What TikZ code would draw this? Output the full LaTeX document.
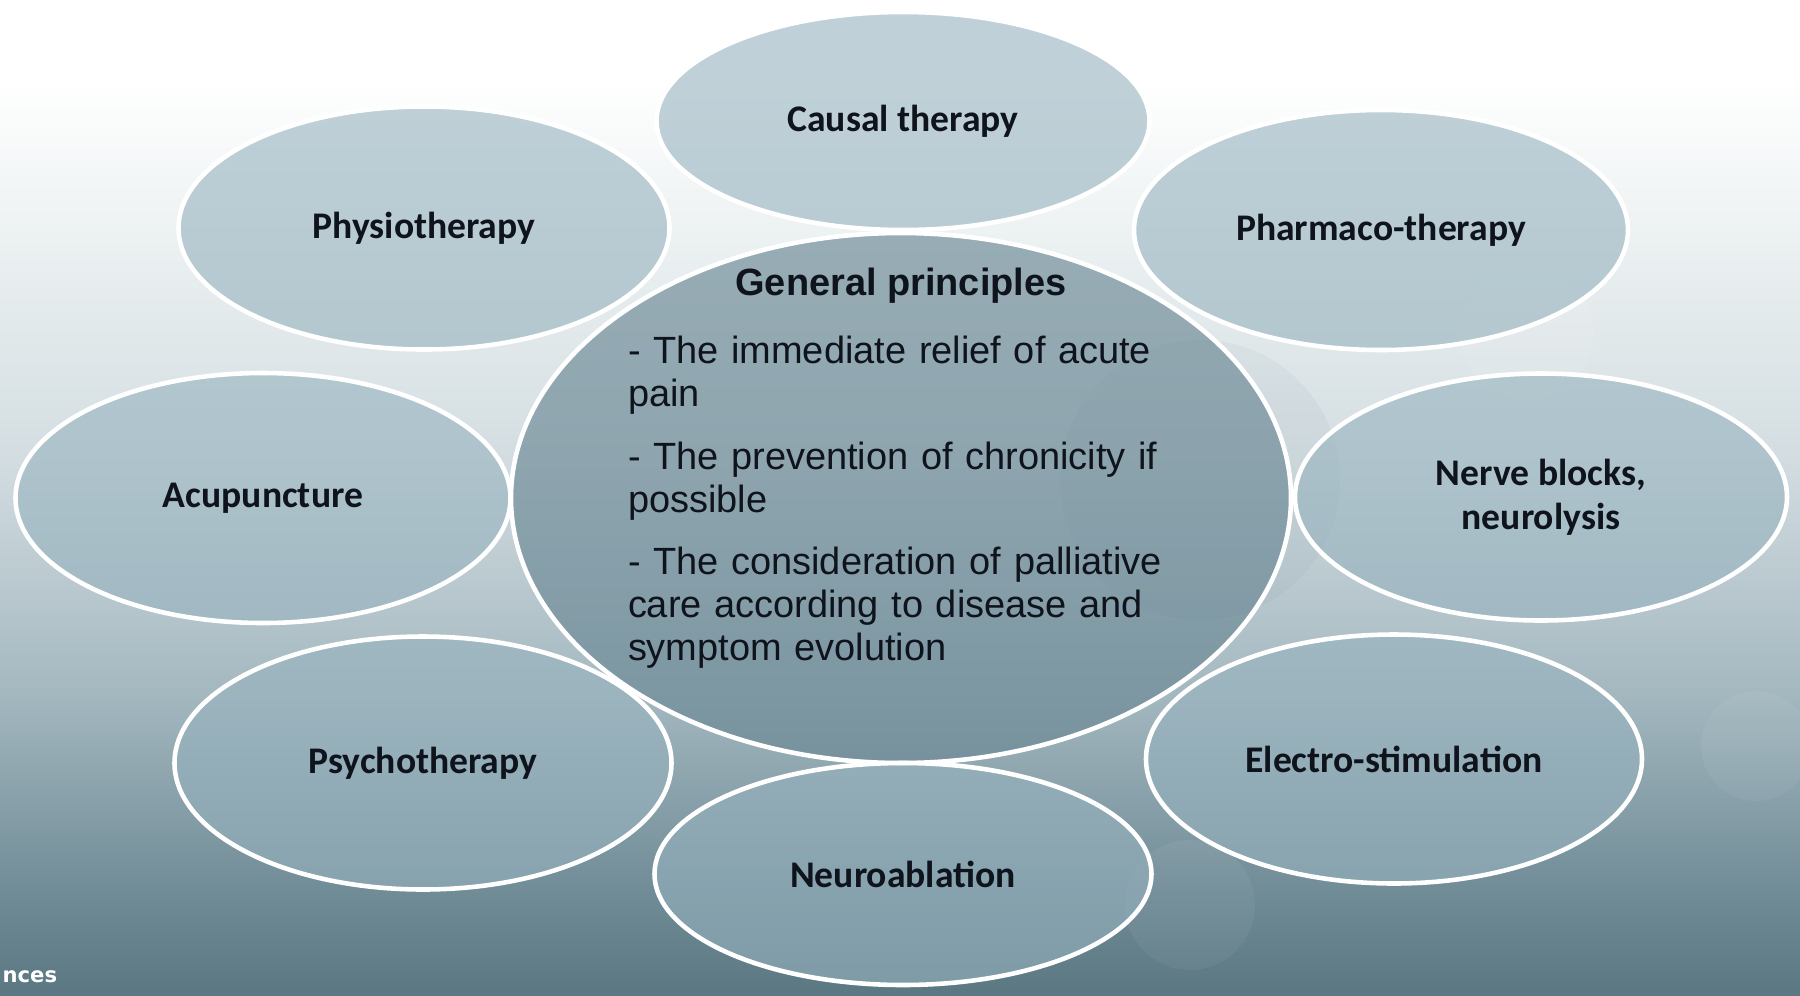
\documentclass[tikz,border=0pt]{standalone}
\usepackage{fontspec}
\setmainfont{Liberation Sans}
\newfontfamily\labelfont{Carlito}
\newfontfamily\notefont{DejaVu Sans}
\usepackage{xcolor}
\usepackage{tikz}
\usetikzlibrary{shapes.geometric, positioning, shadings}
\definecolor{bgdeep}{RGB}{90, 119, 130}
\definecolor{bgdark}{RGB}{111, 139, 150}
\definecolor{bgmid}{RGB}{163, 183, 191}
\definecolor{bglight}{RGB}{211, 221, 225}
\definecolor{bgpale}{RGB}{236, 241, 242}
\definecolor{satfill}{RGB}{150, 178, 190}
\definecolor{corefill}{RGB}{104, 134, 147}
\definecolor{inkdark}{RGB}{15, 20, 28}
\pgfdeclareverticalshading{slidebg}{100bp}{color(0bp)=(bgdeep); color(25bp)=(bgdeep); color(30bp)=(bgdark); color(40bp)=(bgmid); color(52bp)=(bglight); color(63bp)=(bgpale); color(71bp)=(white); color(100bp)=(white)}

\begin{document}
\begin{tikzpicture}[
    sat/.style={ellipse, draw=white, line width=1.3pt, fill=satfill, fill opacity=0.6, text opacity=1, text=inkdark, align=center, inner sep=0pt, font=\labelfont\bfseries\fontsize{10.7}{12.4}\selectfont},
    core/.style={ellipse, draw=white, line width=1.3pt, fill=corefill, fill opacity=0.64, minimum width=7.8cm, minimum height=5.3cm},
    coretitle/.style={inner sep=0pt, text=inkdark, font=\bfseries\fontsize{10.8}{12.2}\selectfont},
    corebody/.style={inner sep=0pt, text=inkdark, text width=5.46cm, align=left, font=\fontsize{10.8}{12.2}\selectfont}
]

\useasboundingbox (0,0) rectangle (18,-9.95);
\path [shading=slidebg] (0,0) rectangle (18,-9.95);

\fill [bgdeep, opacity=0.06] (12.0,-4.8) circle (1.4);
\fill [white, opacity=0.08] (15.27,-3.33) circle (0.67);
\fill [white, opacity=0.05] (17.56,-7.46) circle (0.55);
\fill [white, opacity=0.05] (11.9,-9.05) circle (0.65);

\node [sat, minimum width=4.93cm, minimum height=2.18cm] (causal) at (9.03,-1.21) {Causal therapy};
\node [sat, minimum width=4.91cm, minimum height=2.43cm] (physio) at (4.24,-2.28) {Physiotherapy};
\node [sat, minimum width=4.94cm, minimum height=2.40cm] (pharmaco) at (13.81,-2.30) {Pharmaco-therapy};
\node [sat, minimum width=4.95cm, minimum height=2.50cm] (acup) at (2.63,-4.98) {Acupuncture};
\node [sat, minimum width=4.92cm, minimum height=2.47cm] (nerve) at (15.41,-4.97) {Nerve blocks,\\neurolysis};
\node [sat, minimum width=4.97cm, minimum height=2.53cm] (psycho) at (4.23,-7.63) {Psychotherapy};
\node [sat, minimum width=4.96cm, minimum height=2.49cm] (electro) at (13.94,-7.59) {Electro-stimulation};

\node [core] (gp) at (9.01,-4.98) {};
\node [coretitle, below=0.37cm of gp.north] (gp_title) {General principles};
\node [corebody, below=0.31cm of gp_title] (gp_body) {- The immediate relief of acute\\pain\\[5.6pt]- The prevention of chronicity if\\possible\\[5.6pt]- The consideration of palliative\\care according to disease and\\symptom evolution};

\node [sat, minimum width=4.97cm, minimum height=2.22cm] (neuro) at (9.03,-8.74) {Neuroablation};

\node [anchor=west, inner sep=0pt, text=white, font=\notefont\bfseries\fontsize{6}{7}\selectfont] (src_note) at (0.02,-9.77) {nces};

\end{tikzpicture}
\end{document}
